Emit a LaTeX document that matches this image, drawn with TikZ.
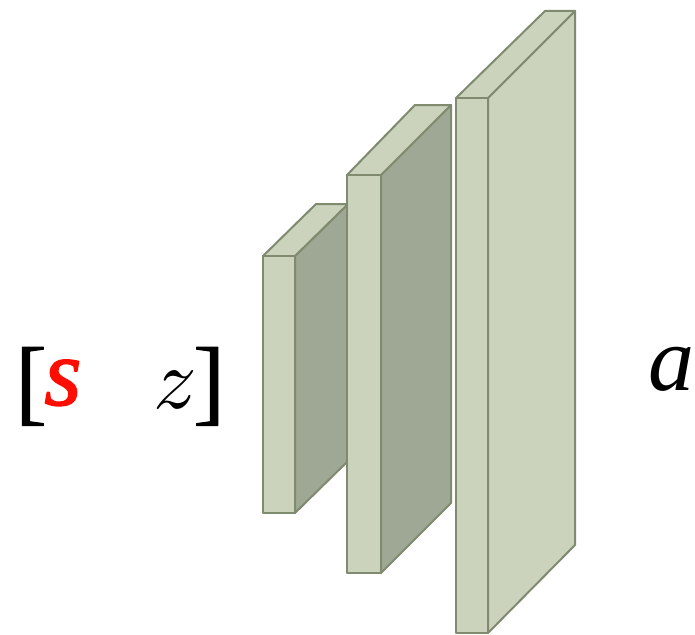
\documentclass[tikz,border=0pt]{standalone}
\usepackage{fontspec}
\setmainfont{Liberation Serif}
\newfontfamily\heavyfont[FakeBold=1]{Liberation Serif}
\newfontfamily\sfont[FakeBold=1.5]{Liberation Serif}
\definecolor{slab}{HTML}{CBD3BD}
\definecolor{slabdark}{HTML}{9FA895}
\definecolor{slabline}{HTML}{7F8A6F}
\begin{document}
\begin{tikzpicture}[x=1pt,y=-1pt,line join=round,edge/.style={draw=slabline,line width=2pt,fill=slab},shade/.style={edge,fill=slabdark},sym/.style={inner sep=0,anchor=base west}]
\useasboundingbox(0,0)rectangle(695,634);
% left, front right, top, bottom, back left, back right, back top, side style
\foreach \l/\r/\t/\b/\p/\q/\u/\v/\f in {263/295/256/513/316/348/204/461/shade,347/381/175/573/415/451/105/503/shade,456/488/98/633/545/575/11/545/edge}{
\draw[\f](\r,\t)--(\q,\u)--(\q,\v)--(\r,\b)--cycle;
\draw[edge](\l,\t)--(\p,\u)--(\q,\u)--(\r,\t)--cycle;
\draw[edge](\l,\t)rectangle(\r,\b);}
\node[sym,font=\fontsize{95}{95}\heavyfont](open)at(15,413){[};
\node[sym,text=red!90!orange,font=\fontsize{96}{96}\sfont\itshape](s)at(44,405){s};
\node[sym,scale=8.6](z)at(152,408){$z$};
\node[sym,font=\fontsize{95}{95}\heavyfont](close)at(193,413){]};
\node[sym,font=\fontsize{92}{92}\selectfont\itshape](a)at(648,390){a};
\end{tikzpicture}
\end{document}
